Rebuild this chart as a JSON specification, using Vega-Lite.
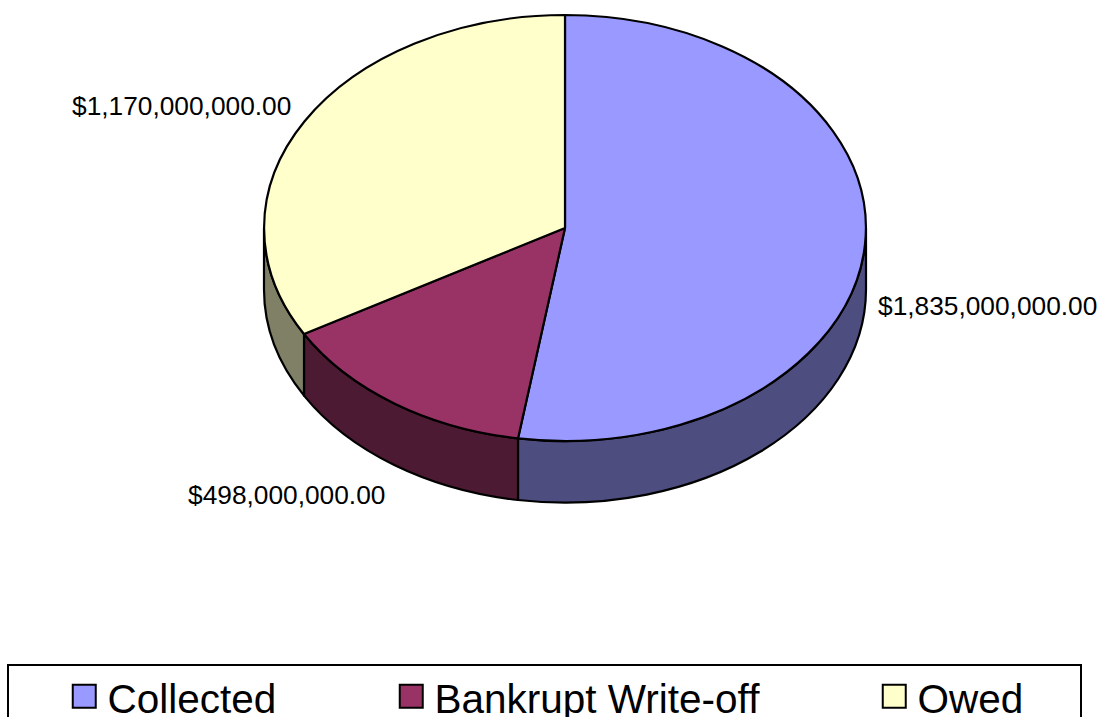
{
"$schema":"https://vega.github.io/schema/vega-lite/v6.json",
"width":1100,"height":717,"padding":0,"autosize":{"type":"none"},"background":"white",
"config":{"view":{"stroke":null},"font":"Liberation Sans","legend":{"strokeWidth":2}},
"data":{"values":[
{"slice":"Collected","value":1835000000},
{"slice":"Bankrupt Write-off","value":498000000},
{"slice":"Owed","value":1170000000}]},
"encoding":{
"x":{"datum":0,"type":"quantitative","axis":null,"scale":{"domain":[-565,535],"nice":false,"zero":false}},
"y":{"datum":0,"type":"quantitative","axis":null,"scale":{"domain":[489,-228],"nice":false,"zero":false}}
},
"layer":[
{"mark":{"type":"point","filled":true,"stroke":"black","strokeWidth":2.2,"opacity":1,"strokeJoin":"round"},
"encoding":{
"size":{"value":4},
"color":{"field":"slice","type":"nominal","legend":null,"scale":{"domain":["Owed","Collected","Bankrupt Write-off"],"range":["#808066","#4D4D80","#4D1A33"]}},
"shape":{"field":"slice","type":"nominal","legend":null,"scale":{"domain":["Bankrupt Write-off","Owed","Collected"],"range":[
"M-47,210.4 A301,213 0 0 1 -261,106 L-261,167.6 A301,213 0 0 0 -47,272 Z",
"M-261,106 A301,213 0 0 1 -301,0 L-301,61.6 A301,213 0 0 0 -261,167.6 Z",
"M301,0 A301,213 0 0 1 -47,210.4 L-47,272 A301,213 0 0 0 301,61.6 Z"]}}
}},
{"mark":{"type":"point","filled":true,"stroke":"black","strokeWidth":2.2,"opacity":1,"strokeJoin":"round"},
"encoding":{
"size":{"value":4},
"fill":{"field":"slice","type":"nominal","scale":{"domain":["Collected","Bankrupt Write-off","Owed"],"range":["#9999FF","#993366","#FFFFCC"]},
"legend":{"title":" ","titleOrient":"right","titleFontSize":1,"titlePadding":42,"orient":"none","legendX":8,"legendY":665,"direction":"horizontal","columns":3,"padding":16,"strokeColor":"black","fillColor":"white","symbolType":"M-1,-1.43L1,-1.43L1,0.57L-1,0.57Z","symbolSize":529,"symbolStrokeColor":"black","symbolStrokeWidth":2,"symbolOpacity":1,"symbolOffset":40,"labelFontSize":40.5,"labelFont":"Liberation Sans","labelColor":"black","labelOffset":3,"labelLimit":500,"columnPadding":74,"gridAlign":"none"}},
"shape":{"field":"slice","type":"nominal","legend":null,"scale":{"domain":["Owed","Bankrupt Write-off","Collected"],"range":[
"M0,0 L-261,106 A301,213 0 0 1 0,-213 Z",
"M0,0 L-47,210.4 A301,213 0 0 1 -261,106 Z",
"M0,0 L0,-213 A301,213 0 1 1 -47,210.4 Z"]}}
}},
{"transform":[{"filter":"datum.slice==='Collected'"}],"mark":{"type":"text","align":"left","baseline":"middle","dx":313,"dy":79,"fontSize":26.3,"font":"Liberation Sans","color":"black"},"encoding":{"text":{"field":"value","type":"quantitative","format":"$,.2f"}}},
{"transform":[{"filter":"datum.slice==='Bankrupt Write-off'"}],"mark":{"type":"text","align":"left","baseline":"middle","dx":-377,"dy":268,"fontSize":26.3,"font":"Liberation Sans","color":"black"},"encoding":{"text":{"field":"value","type":"quantitative","format":"$,.2f"}}},
{"transform":[{"filter":"datum.slice==='Owed'"}],"mark":{"type":"text","align":"left","baseline":"middle","dx":-493,"dy":-121,"fontSize":26.3,"font":"Liberation Sans","color":"black"},"encoding":{"text":{"field":"value","type":"quantitative","format":"$,.2f"}}}
],
"resolve":{"scale":{"shape":"independent"}}
}
